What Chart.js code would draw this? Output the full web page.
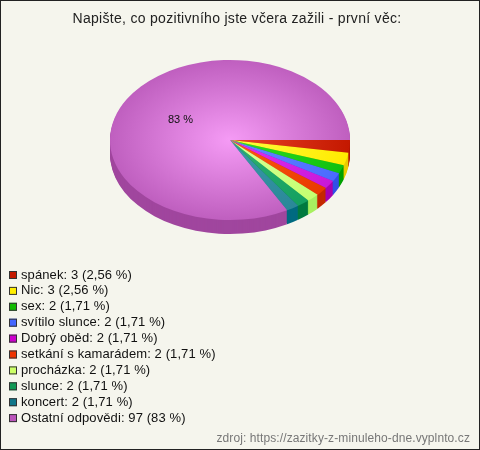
<!DOCTYPE html>
<html>
<head>
<meta charset="utf-8">
<script src="https://cdn.jsdelivr.net/npm/chart.js@4.4.0/dist/chart.umd.min.js"></script>
<style>
  html, body { margin: 0; padding: 0; background: #f5f5ed; }
  #wrap { width: 478px; height: 448px; border: 1px solid #222; }
</style>
</head>
<body>
<div id="wrap"><canvas id="myChart" width="478" height="448"></canvas></div>
<script>
const title = 'Napište, co pozitivního jste včera zažili - první věc:';
const source = 'zdroj: https://zazitky-z-minuleho-dne.vyplnto.cz';
const labels = ['spánek', 'Nic', 'sex', 'svítilo slunce', 'Dobrý oběd', 'setkání s kamarádem', 'procházka', 'slunce', 'koncert', 'Ostatní odpovědi'];
const values = [3, 3, 2, 2, 2, 2, 2, 2, 2, 97];
const percentText = ['2,56 %', '2,56 %', '1,71 %', '1,71 %', '1,71 %', '1,71 %', '1,71 %', '1,71 %', '1,71 %', '83 %'];

// barvy: legenda / střed výseče / okraj výseče / bok
const legendColors = ['#c41a00', '#ffee00', '#11bb00', '#4466ff', '#cc00cc', '#ee3300', '#ccff66', '#119955', '#11778a', '#bb55bb'];
const innerColors  = ['#e84428', '#ffff40', '#30e020', '#6688ff', '#e030f0', '#ff5a10', '#ddff99', '#30b070', '#3a9aa8', '#f59bf5'];
const outerColors  = ['#c41800', '#ffea00', '#10c010', '#4a6aff', '#c818d8', '#e83a00', '#c4ff70', '#14a060', '#2a8898', '#bf5fbf'];
const sideColors   = ['#b01400', '#e8cc00', '#00a000', '#3050e8', '#a800b0', '#c42800', '#a8f060', '#007a40', '#006a80', '#a0469e'];

const yScale = 80 / 120;   // zploštění elipsy
const depth = 14;          // výška boku

function grad(context) {
  const chart = context.chart;
  const i = context.dataIndex;
  const a = chart.chartArea;
  if (!a) return outerColors[i];
  const cx = (a.left + a.right) / 2, cy = (a.top + a.bottom) / 2;
  const g = chart.ctx.createRadialGradient(cx, cy, 0, cx, cy, 120);
  g.addColorStop(0, innerColors[i]);
  g.addColorStop(1, outerColors[i]);
  return g;
}

const pie3d = {
  id: 'pie3d',
  beforeDatasetsDraw(chart) {
    const ctx = chart.ctx;
    const arcs = chart.getDatasetMeta(0).data;
    const cx = arcs[0].x, cy = arcs[0].y;
    // bok
    for (let d = depth; d >= 1; d--) {
      ctx.save();
      ctx.translate(cx, cy + d);
      ctx.scale(1, yScale);
      arcs.forEach((arc, i) => {
        ctx.beginPath();
        ctx.moveTo(0, 0);
        ctx.arc(0, 0, arc.outerRadius, arc.startAngle, arc.endAngle);
        ctx.closePath();
        ctx.fillStyle = sideColors[i];
        ctx.fill();
      });
      ctx.restore();
    }
    ctx.save();
    ctx.translate(cx, cy);
    ctx.scale(1, yScale);
    ctx.translate(-cx, -cy);
  },
  afterDatasetsDraw(chart) {
    const ctx = chart.ctx;
    ctx.restore();
    const arcs = chart.getDatasetMeta(0).data;
    const last = arcs[arcs.length - 1];
    const mid = (last.startAngle + last.endAngle) / 2;
    const r = last.outerRadius * 0.48;
    ctx.save();
    ctx.fillStyle = '#111';
    ctx.font = '11px "Liberation Sans", Arial, sans-serif';
    ctx.textAlign = 'center';
    ctx.textBaseline = 'middle';
    ctx.fillText(percentText[9], last.x + Math.cos(mid) * r, last.y + Math.sin(mid) * r * yScale);
    ctx.restore();
  },
  afterDraw(chart) {
    const ctx = chart.ctx;
    ctx.save();
    ctx.font = '14px "Liberation Sans", Arial, sans-serif';
    ctx.letterSpacing = '0.3px';
    ctx.fillStyle = '#222';
    ctx.textAlign = 'center';
    ctx.textBaseline = 'middle';
    ctx.fillText(title, 236, 18);
    // legenda
    ctx.font = '13px "Liberation Sans", Arial, sans-serif';
    ctx.letterSpacing = '0.1px';
    ctx.textAlign = 'left';
    for (let i = 0; i < labels.length; i++) {
      const y = 274 + i * 15.9;
      ctx.fillStyle = legendColors[i];
      ctx.fillRect(8, y - 4, 8, 8);
      ctx.strokeStyle = '#333';
      ctx.lineWidth = 1;
      ctx.strokeRect(8.5, y - 3.5, 7, 7);
      ctx.fillStyle = '#111';
      ctx.fillText(labels[i] + ': ' + values[i] + ' (' + percentText[i] + ')', 20, y);
    }
    ctx.font = '12px "Liberation Sans", Arial, sans-serif';
    ctx.letterSpacing = '0.1px';
    ctx.fillStyle = '#777';
    ctx.textAlign = 'right';
    ctx.fillText(source, 469, 438);
    ctx.restore();
  }
};

new Chart(document.getElementById('myChart').getContext('2d'), {
  type: 'pie',
  data: {
    labels: labels,
    datasets: [{
      data: values,
      backgroundColor: grad,
      borderWidth: 0
    }]
  },
  options: {
    responsive: false,
    animation: false,
    rotation: 90,
    layout: { padding: { left: 109, right: 129, top: 19, bottom: 189 } },
    plugins: {
      legend: { display: false },
      tooltip: { enabled: false }
    }
  },
  plugins: [pie3d]
});
</script>
</body>
</html>
